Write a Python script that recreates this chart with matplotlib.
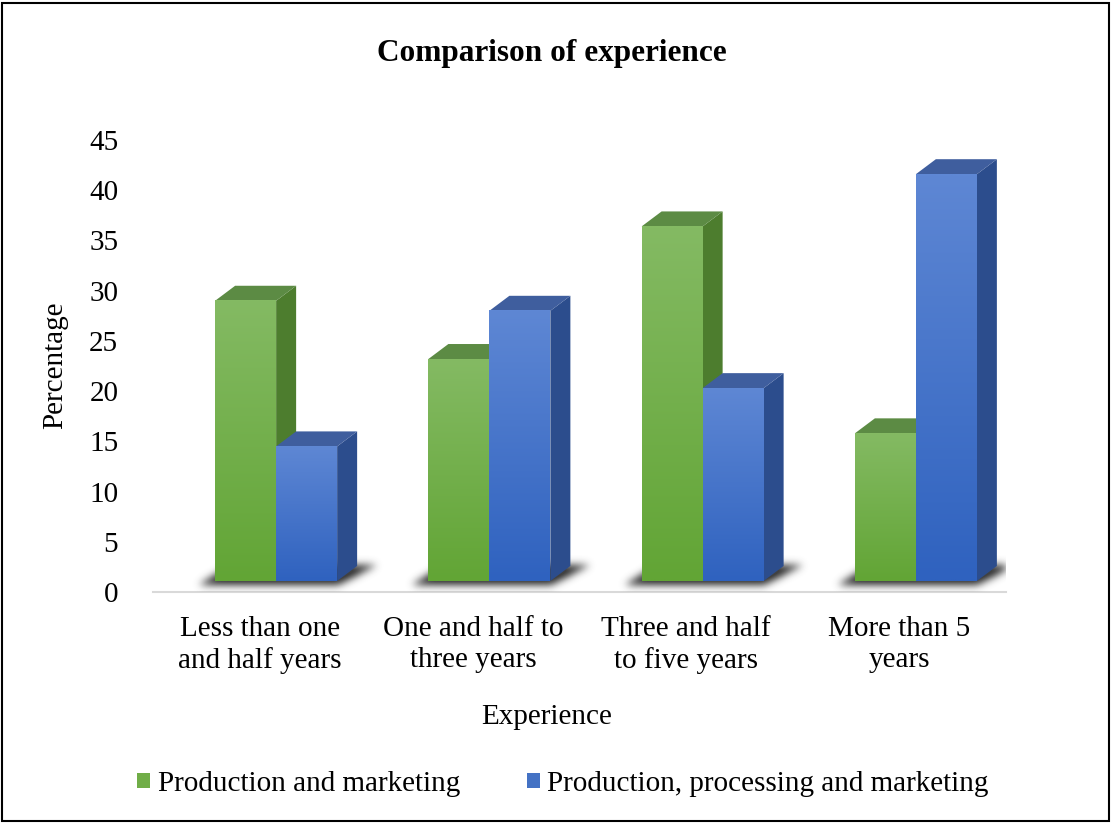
import numpy as np
import matplotlib.pyplot as plt
from matplotlib.patches import Polygon, Rectangle, Patch
from matplotlib.path import Path
from matplotlib.colors import to_rgb

plt.rcParams['font.family'] = ['Liberation Serif', 'DejaVu Serif']

categories = ['Less than one\nand half years', 'One and half to\nthree years',
              'Three and half\nto five years', 'More than 5\nyears']
prod_marketing = [27.9, 22.1, 35.3, 14.7]
prod_processing_marketing = [13.4, 26.9, 19.2, 40.5]
series_names = ['Production and marketing', 'Production, processing and marketing']
y_ticks = np.arange(0, 46, 5)

# face colours for the 3d columns: front gradient (top, bottom), side, top
styles = [
    dict(front=('#84ba63', '#62a535'), side='#4d7d2e', top='#5c8b44', legend='#70ad47'),
    dict(front=('#5e87d4', '#2f62bf'), side='#2c4d8d', top='#3f5e9e', legend='#4472c4'),
]

W, H = 1112, 823
FS = 21
fig = plt.figure(figsize=(W / 100, H / 100), dpi=100)
ax = fig.add_axes([153 / W, (H - 592) / H, (1006 - 153) / W, 452 / H])

# pixel -> data conversion
px_x = 4 / (1006 - 153)
px_y = 45 / 452

bar_w = 61 * px_x
first_off = -44.5 * px_x
depth_x = 20 * px_x
depth_y = 15 * px_y
floor = 11 * px_y


def draw_column(x0, value, st, z):
    x1 = x0 + bar_w
    y0 = floor
    y1 = floor + value

    side = [(x1, y0), (x1 + depth_x, y0 + depth_y), (x1 + depth_x, y1 + depth_y), (x1, y1)]
    top = [(x0, y1), (x0 + depth_x, y1 + depth_y), (x1 + depth_x, y1 + depth_y), (x1, y1)]
    ax.add_patch(Polygon(side, closed=True, facecolor=st['side'], edgecolor='none', zorder=z))
    ax.add_patch(Polygon(top, closed=True, facecolor=st['top'], edgecolor='none', zorder=z))

    c_top = np.array(to_rgb(st['front'][0]))
    c_bot = np.array(to_rgb(st['front'][1]))
    t = np.linspace(0, 1, 100)[:, None]
    grad = (c_top * (1 - t) + c_bot * t)[:, None, :]
    ax.imshow(grad, extent=[x0, x1, y0, y1], aspect='auto', origin='upper',
              interpolation='bilinear', zorder=z + 0.5)


# blurred floor shadow under every pair of columns
gx = np.linspace(-0.5, 3.5, 853)
gy = np.linspace(0, 6, 61)
XX, YY = np.meshgrid(gx, gy)
pts = np.column_stack([XX.ravel(), YY.ravel()])
mask = np.zeros(XX.size)
for i in range(len(categories)):
    x0 = i + first_off
    x1 = x0 + 2 * bar_w
    poly = Path([(x0 - 16 * px_x, floor - 4 * px_y), (x1 + 2 * px_x, floor - 4 * px_y),
                 (x1 + depth_x + 20 * px_x, floor + depth_y + 1 * px_y),
                 (x0 + depth_x - 4 * px_x, floor + depth_y + 1 * px_y)])
    mask = np.maximum(mask, poly.contains_points(pts).astype(float))
mask = mask.reshape(XX.shape)
kern = np.exp(-0.5 * (np.arange(-12, 13) / 4.0) ** 2)
kern /= kern.sum()
mask = np.apply_along_axis(lambda m: np.convolve(m, kern, mode='same'), 1, mask)
mask = np.apply_along_axis(lambda m: np.convolve(m, kern, mode='same'), 0, mask)
shadow = np.zeros(XX.shape + (4,))
shadow[..., :3] = to_rgb('#383838')
shadow[..., 3] = np.clip(mask * 1.1, 0, 0.95)
ax.imshow(shadow, extent=[-0.5, 3.5, 0, 6], origin='lower', aspect='auto', zorder=1)

for i in range(len(categories)):
    for s, vals in enumerate([prod_marketing, prod_processing_marketing]):
        x0 = i + first_off + s * bar_w
        draw_column(x0, vals[i], styles[s], 2 + s)

ax.set_xlim(-0.5, 3.5)
ax.set_ylim(0, 45)

for sp in ['top', 'right', 'left']:
    ax.spines[sp].set_visible(False)
ax.spines['bottom'].set_color('#d9d9d9')
ax.spines['bottom'].set_linewidth(1.5)
ax.spines['bottom'].set_zorder(0.5)

ax.set_yticks(y_ticks)
ax.set_yticklabels([str(v) for v in y_ticks], fontsize=FS)
ax.set_xticks(range(len(categories)))
ax.set_xticklabels(categories, fontsize=FS, linespacing=1.27)
ax.tick_params(axis='y', length=0, pad=25)
ax.tick_params(axis='x', length=0, pad=17)

fig.text(55 / W, 1 - 365 / H, 'Percentage', rotation=90, fontsize=FS,
         ha='center', va='center')
fig.text(547 / W, 1 - 717 / H, 'Experience', fontsize=FS, ha='center', va='center')
fig.text(552 / W, 1 - 53 / H, 'Comparison of experience', fontsize=22.5,
         fontweight='bold', ha='center', va='center')

handles = [Patch(facecolor=st['legend'], edgecolor='none') for st in styles]
fig.legend(handles, series_names, loc='center', bbox_to_anchor=(563 / W, 1 - 784 / H),
           ncol=2, frameon=False, fontsize=FS, handlelength=0.45, handleheight=0.45,
           handletextpad=0.25, columnspacing=2.3)

# outer frame
fig.patches.append(Rectangle((2 / W, 2 / H), 1107 / W, 818 / H, transform=fig.transFigure,
                             fill=False, edgecolor='black', lw=1.5))

fig.savefig('out.png', dpi=100)
